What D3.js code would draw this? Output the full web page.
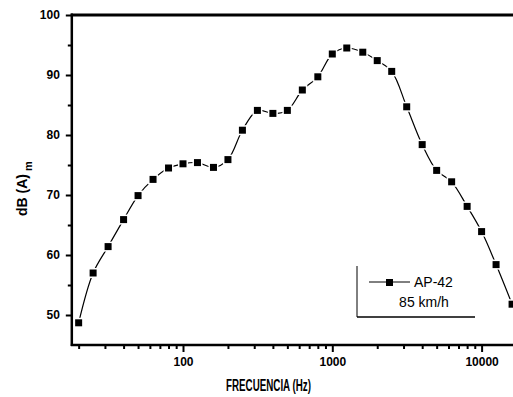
<!DOCTYPE html>
<html>
<head>
<meta charset="utf-8">
<script src="https://cdn.jsdelivr.net/npm/d3@7"></script>
<style>
  html, body { margin: 0; padding: 0; background: #fff; }
  svg { display: block; font-family: "Liberation Sans", Arial, sans-serif; }
</style>
</head>
<body>
<svg id="chart" width="513" height="397"></svg>
<script>
// Data (1/3 octave band centre frequencies, Hz) and levels dB(A)m
const frequencies = [20, 25, 31.5, 40, 50, 63, 80, 100, 125, 160, 200, 250, 315, 400, 500, 630, 800,
  1000, 1250, 1600, 2000, 2500, 3150, 4000, 5000, 6300, 8000, 10000, 12500, 16000];
const levels = [48.7, 57.0, 61.4, 65.9, 69.9, 72.6, 74.5, 75.2, 75.4, 74.6, 75.9, 80.8, 84.1, 83.6, 84.1, 87.5, 89.7,
  93.5, 94.5, 93.8, 92.4, 90.6, 84.7, 78.4, 74.1, 72.2, 68.1, 63.9, 58.4, 51.8];
const xMajorTicks = [100, 1000, 10000];
const xMinorTicks = [20, 30, 40, 50, 60, 70, 80, 90, 200, 300, 400, 500, 600, 700, 800, 900,
  2000, 3000, 4000, 5000, 6000, 7000, 8000, 9000, 20000];
const yMajorTicks = [50, 60, 70, 80, 90, 100];
const yMinorTicks = [55, 65, 75, 85, 95];
const seriesName = "AP-42";
const seriesNote = "85 km/h";
const xTitle = "FRECUENCIA (Hz)";

const svg = d3.select("#chart");
const decade = 149.3;
const xAt = f => 183 + (Math.log10(f) - 2) * decade;
const x = d3.scaleLog().domain([18, 20000]).range([xAt(18), xAt(20000)]);
const y = d3.scaleLinear().domain([45, 100]).range([345, 15]);
const x0 = x.range()[0];

// minor x ticks
svg.append("g").attr("transform", `translate(0,${y(45)})`)
  .call(d3.axisBottom(x).tickValues(xMinorTicks).tickSize(4).tickFormat(""))
  .call(g => g.select(".domain").remove())
  .call(g => g.selectAll("line").attr("stroke", "#000").attr("stroke-width", 2));
// major x ticks
svg.append("g").attr("transform", `translate(0,${y(45)})`)
  .call(d3.axisBottom(x).tickValues(xMajorTicks).tickSize(7).tickPadding(5).tickFormat(d3.format("d")))
  .call(g => g.select(".domain").remove())
  .call(g => g.selectAll("line").attr("stroke", "#000").attr("stroke-width", 2))
  .call(g => g.selectAll("text").attr("font-size", 12).attr("font-weight", "bold").attr("fill", "#000")
     .attr("font-family", "'Liberation Sans', Arial, sans-serif"));

// minor y ticks
svg.append("g").attr("transform", `translate(${x0},0)`)
  .call(d3.axisLeft(y).tickValues(yMinorTicks).tickSize(4).tickFormat(""))
  .call(g => g.select(".domain").remove())
  .call(g => g.selectAll("line").attr("stroke", "#000").attr("stroke-width", 2));
// major y ticks
svg.append("g").attr("transform", `translate(${x0},0)`)
  .call(d3.axisLeft(y).tickValues(yMajorTicks).tickSize(6).tickPadding(6).tickFormat(d3.format("d")))
  .call(g => g.select(".domain").remove())
  .call(g => g.selectAll("line").attr("stroke", "#000").attr("stroke-width", 2))
  .call(g => g.selectAll("text").attr("font-size", 12).attr("font-weight", "bold").attr("fill", "#000")
     .attr("font-family", "'Liberation Sans', Arial, sans-serif"));

// frame lines (left, bottom, top)
svg.append("line").attr("x1", x0).attr("x2", x0).attr("y1", y(100) - 1.5).attr("y2", y(45) + 1)
  .attr("stroke", "#000").attr("stroke-width", 2.5);
svg.append("line").attr("x1", x0 - 1).attr("x2", 520).attr("y1", y(45)).attr("y2", y(45))
  .attr("stroke", "#000").attr("stroke-width", 2.5);
svg.append("line").attr("x1", x0 - 1).attr("x2", 520).attr("y1", y(100)).attr("y2", y(100))
  .attr("stroke", "#000").attr("stroke-width", 3);

// data line
const pts = frequencies.map((f, i) => [f, levels[i]]);
svg.append("path").datum(pts)
  .attr("fill", "none").attr("stroke", "#000").attr("stroke-width", 1.2)
  .attr("d", d3.line().x(d => x(d[0])).y(d => y(d[1])).curve(d3.curveCatmullRom));
// marker gaps
svg.append("g").selectAll("rect").data(pts).join("rect")
  .attr("x", d => x(d[0]) - 5).attr("y", d => y(d[1]) - 5).attr("width", 10).attr("height", 10)
  .attr("fill", "#fff");
svg.append("g").selectAll("rect").data(pts).join("rect")
  .attr("x", d => x(d[0]) - 3.5).attr("y", d => y(d[1]) - 3.5).attr("width", 7).attr("height", 7)
  .attr("fill", "#000");

// legend
const lg = svg.append("g");
lg.append("line").attr("x1", 357).attr("x2", 357).attr("y1", 266).attr("y2", 317).attr("stroke", "#000").attr("stroke-width", 1);
lg.append("line").attr("x1", 357).attr("x2", 475).attr("y1", 317).attr("y2", 317).attr("stroke", "#000").attr("stroke-width", 1.5);
lg.append("line").attr("x1", 369).attr("x2", 410).attr("y1", 282).attr("y2", 282).attr("stroke", "#000").attr("stroke-width", 1);
lg.append("rect").attr("x", 386).attr("y", 279).attr("width", 7).attr("height", 7).attr("fill", "#000");
lg.append("text").attr("x", 414).attr("y", 287).attr("font-size", 14).attr("fill", "#000").text(seriesName);
lg.append("text").attr("x", 424).attr("y", 307).attr("text-anchor", "middle").attr("font-size", 14).attr("fill", "#000").text(seriesNote);

// axis titles
svg.append("text").attr("x", 226).attr("y", 391)
  .attr("font-size", 16).attr("font-weight", "bold").attr("textLength", 85).attr("lengthAdjust", "spacingAndGlyphs")
  .text(xTitle);

const yt = svg.append("text").attr("transform", "translate(27,216) rotate(-90)")
  .attr("font-size", 14).attr("font-weight", "bold");
yt.append("tspan").text("dB (A)");
yt.append("tspan").attr("dy", 5).attr("dx", 3).attr("font-size", 11).text("m");
</script>
</body>
</html>
